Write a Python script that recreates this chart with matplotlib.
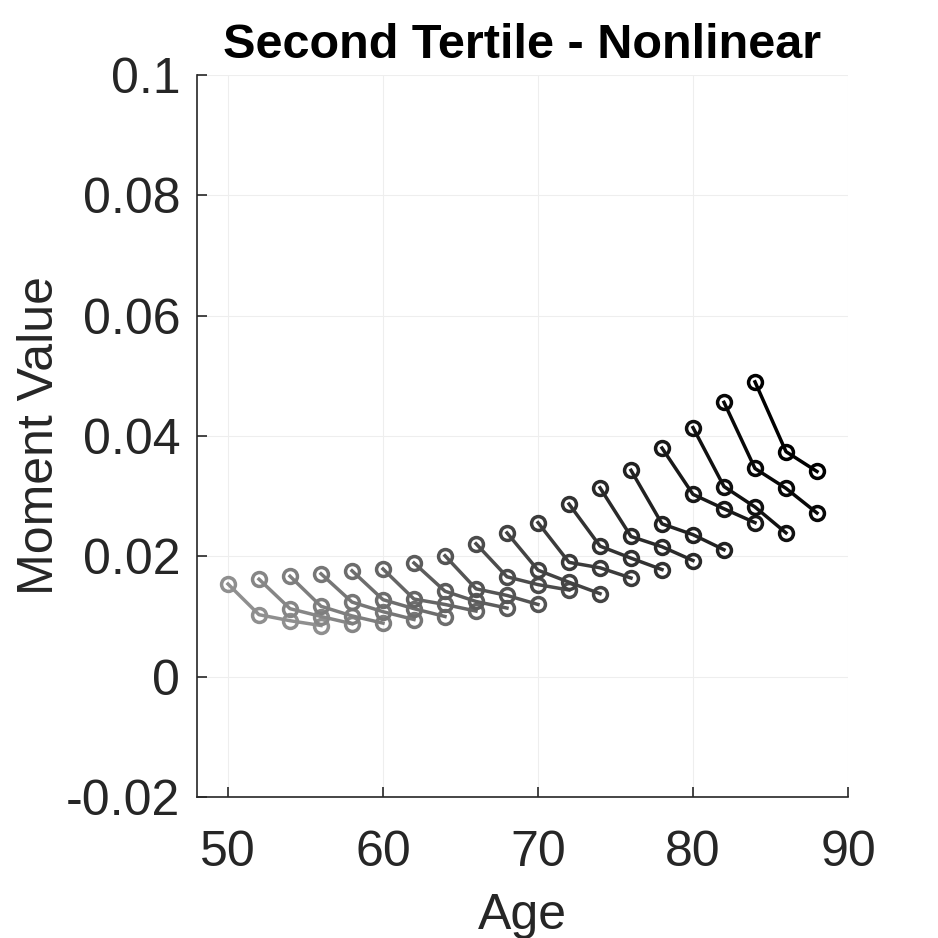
import matplotlib
matplotlib.use("Agg")
import matplotlib.pyplot as plt
import numpy as np

plt.rcParams['font.family'] = ['Liberation Sans', 'DejaVu Sans']

start_ages = [50, 52, 54, 56, 58, 60, 62, 64, 66, 68, 70, 72, 74, 76, 78, 80, 82, 84]
series_values = [
    [0.0154, 0.0103, 0.0093, 0.0085],
    [0.0162, 0.0113, 0.0100, 0.0088],
    [0.0167, 0.0117, 0.0101, 0.0089],
    [0.0171, 0.0124, 0.0108, 0.0095],
    [0.0176, 0.0128, 0.0113, 0.0100],
    [0.0179, 0.0129, 0.0120, 0.0109],
    [0.0189, 0.0142, 0.0125, 0.0114],
    [0.0201, 0.0146, 0.0135, 0.0120],
    [0.0221, 0.0166, 0.0153, 0.0144],
    [0.0239, 0.0177, 0.0157, 0.0138],
    [0.0256, 0.0190, 0.0181, 0.0164],
    [0.0287, 0.0217, 0.0197, 0.0178],
    [0.0314, 0.0233, 0.0216, 0.0193],
    [0.0343, 0.0254, 0.0236, 0.0211],
    [0.0380, 0.0303, 0.0279, 0.0256],
    [0.0414, 0.0316, 0.0282, 0.0239],
    [0.0456, 0.0346, 0.0313, 0.0272],
    [0.0490, 0.0374, 0.0341],
]
x_ticks = [50, 60, 70, 80, 90]
y_ticks = [-0.02, 0, 0.02, 0.04, 0.06, 0.08, 0.1]
y_tick_labels = ['-0.02', '0', '0.02', '0.04', '0.06', '0.08', '0.1']

fig = plt.figure(figsize=(9.38, 9.38), dpi=100)
ax = fig.add_axes([197/938, 1 - 797/938, (848-197)/938, (797-75)/938])

n = len(start_ages)
for i, (a0, vals) in enumerate(zip(start_ages, series_values)):
    g = 0.56 * (1 - i / (n - 1))
    col = (g, g, g)
    ages = [a0 + 2 * k for k in range(len(vals))]
    ax.plot(ages, vals, '-o', color=col, lw=2.5, ms=10, mfc='none', mew=2.5)

ax.set_xlim(48, 90)
ax.set_ylim(-0.02, 0.1)
ax.set_xticks(x_ticks)
ax.set_yticks(y_ticks)
ax.set_yticklabels(y_tick_labels)
ax.grid(True, color='#eeeeee', lw=0.8)
ax.set_axisbelow(True)
for s in ['top', 'right']:
    ax.spines[s].set_visible(False)
for s in ['left', 'bottom']:
    ax.spines[s].set_color('#262626')
    ax.spines[s].set_linewidth(1.2)
ax.tick_params(direction='in', length=7, width=1.2, colors='#262626', labelsize=36, pad=12)
ax.tick_params(axis='x', pad=24)
ax.set_xlabel('Age', fontsize=36, color='#262626', labelpad=12)
ax.set_ylabel('Moment Value', fontsize=36, color='#262626', labelpad=2)
ax.set_title('Second Tertile - Nonlinear', fontsize=35, fontweight='bold', pad=12)

fig.savefig('out.png', dpi=100)
